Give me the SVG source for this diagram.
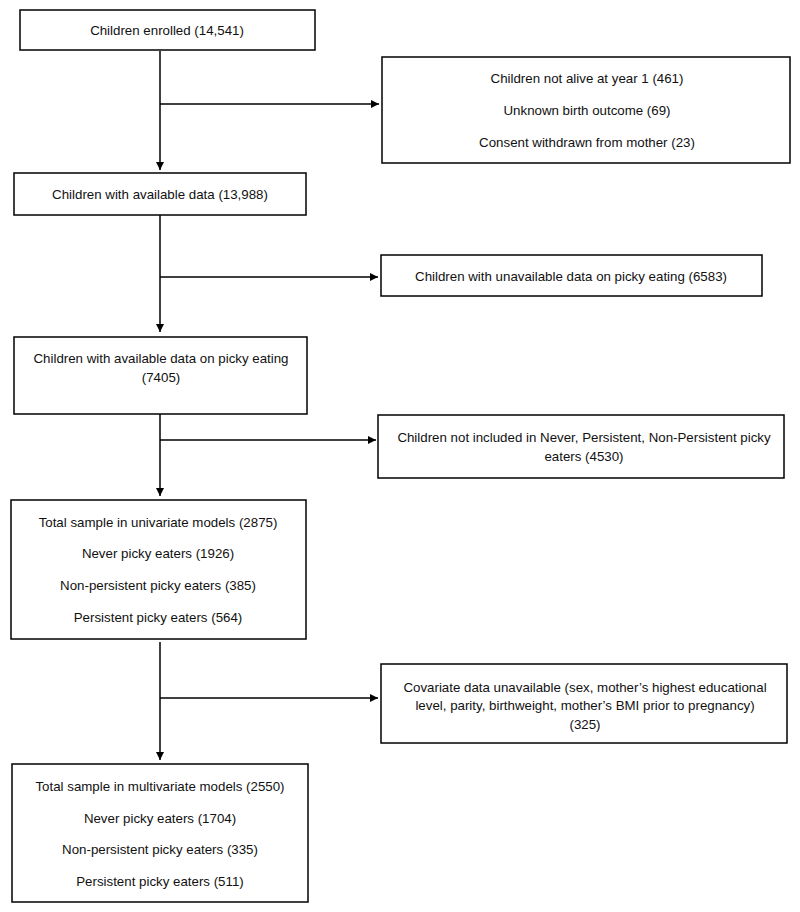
<svg xmlns="http://www.w3.org/2000/svg" width="800" height="912" viewBox="0 0 800 912">
<defs>
<marker id="ah" viewBox="0 0 10 10" refX="10" refY="5" markerWidth="8" markerHeight="8" markerUnits="userSpaceOnUse" orient="auto">
<path d="M0,0 L10,5 L0,10 z" fill="#000"/>
</marker>
<style>
.box{fill:#fff;stroke:#000;stroke-width:1.5}
.t{font-family:"Liberation Sans",Arial,sans-serif;font-size:13.3px;fill:#111;text-anchor:middle}
.c{stroke:#000;stroke-width:1.5;fill:none}
</style>
</defs>
<rect width="800" height="912" fill="#fff"/>
<g id="connectors">
<line class="c" x1="160" y1="51" x2="160" y2="170" marker-end="url(#ah)"/>
<line class="c" x1="160" y1="104" x2="379" y2="104" marker-end="url(#ah)"/>
<line class="c" x1="160" y1="215" x2="160" y2="332" marker-end="url(#ah)"/>
<line class="c" x1="160" y1="277" x2="378" y2="277" marker-end="url(#ah)"/>
<line class="c" x1="160" y1="414" x2="160" y2="496" marker-end="url(#ah)"/>
<line class="c" x1="160" y1="440" x2="376" y2="440" marker-end="url(#ah)"/>
<line class="c" x1="160" y1="642" x2="160" y2="760" marker-end="url(#ah)"/>
<line class="c" x1="160" y1="698" x2="378" y2="698" marker-end="url(#ah)"/>
</g>
<g id="enrolled">
<rect class="box" x="20" y="10" width="295" height="40"/>
<text class="t" x="167" y="35">Children enrolled (14,541)</text>
</g>
<g id="excluded1">
<rect class="box" x="382" y="57" width="408" height="106"/>
<text class="t" x="587" y="83">Children not alive at year 1 (461)</text>
<text class="t" x="587" y="115">Unknown birth outcome (69)</text>
<text class="t" x="587" y="147">Consent withdrawn from mother (23)</text>
</g>
<g id="available">
<rect class="box" x="14" y="173" width="292" height="42"/>
<text class="t" x="160" y="199">Children with available data (13,988)</text>
</g>
<g id="excluded2">
<rect class="box" x="381" y="255" width="381" height="41"/>
<text class="t" x="571" y="281">Children with unavailable data on picky eating (6583)</text>
</g>
<g id="picky">
<rect class="box" x="14" y="337" width="293" height="77"/>
<text class="t" x="161" y="363">Children with available data on picky eating</text>
<text class="t" x="161" y="382">(7405)</text>
</g>
<g id="excluded3">
<rect class="box" x="378" y="415" width="406" height="63"/>
<text class="t" x="584" y="442">Children not included in Never, Persistent, Non-Persistent picky</text>
<text class="t" x="584" y="461">eaters (4530)</text>
</g>
<g id="univariate">
<rect class="box" x="11" y="500" width="295" height="139"/>
<text class="t" x="158" y="527">Total sample in univariate models (2875)</text>
<text class="t" x="158" y="558">Never picky eaters (1926)</text>
<text class="t" x="158" y="590">Non-persistent picky eaters (385)</text>
<text class="t" x="158" y="622">Persistent picky eaters (564)</text>
</g>
<g id="excluded4">
<rect class="box" x="381" y="664" width="406" height="79"/>
<text class="t" x="585" y="692">Covariate data unavailable (sex, mother’s highest educational</text>
<text class="t" x="585" y="710">level, parity, birthweight, mother’s BMI prior to pregnancy)</text>
<text class="t" x="585" y="729">(325)</text>
</g>
<g id="multivariate">
<rect class="box" x="12" y="764" width="296" height="138"/>
<text class="t" x="160" y="791">Total sample in multivariate models (2550)</text>
<text class="t" x="160" y="823">Never picky eaters (1704)</text>
<text class="t" x="160" y="854">Non-persistent picky eaters (335)</text>
<text class="t" x="160" y="886">Persistent picky eaters (511)</text>
</g>
</svg>
